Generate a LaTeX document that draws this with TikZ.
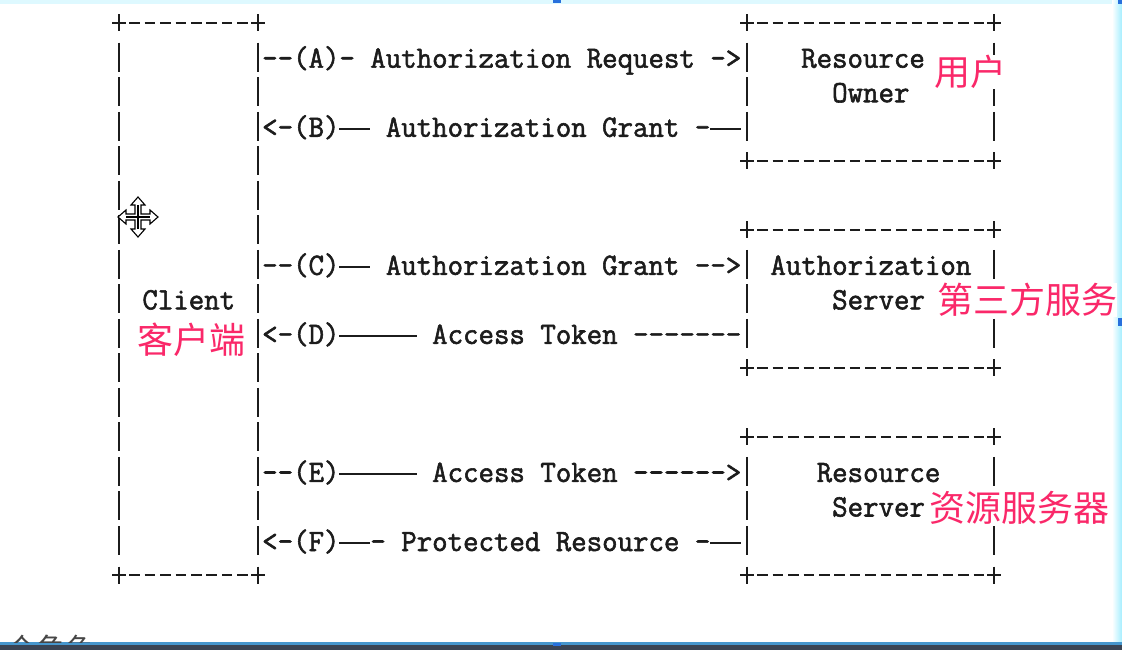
\documentclass[tikz,border=0pt]{standalone}
\usepackage{fontspec}
\newfontfamily\asciifont{Latin Modern Mono}[FakeStretch=0.968,FakeBold=1.8,Ligatures=TeXOff]
\newfontfamily\cjkfont{Noto Sans CJK SC}
\definecolor{ink}{RGB}{28,28,28}
\definecolor{note}{RGB}{250,40,105}
\definecolor{frametop}{RGB}{222,249,255}
\definecolor{frameside}{RGB}{165,238,255}
\definecolor{handle}{RGB}{40,112,220}
\definecolor{barline}{RGB}{70,150,205}
\definecolor{bardark}{RGB}{58,68,84}
\definecolor{faint}{RGB}{70,70,70}
% vertical position of text row #1 of the ASCII grid
\newcommand\rowy[1]{22.7+34.52*#1}
% one character cell filled by a dash, so that runs of them join up
\newcommand\ld{\rule[0.215em]{\fontcharwd\font`\-}{0.075em}}
\newcommand\asciiframe[1]{%
  \draw[hrule] (#1.north west) -- (#1.north east);
  \draw[hrule] (#1.south west) -- (#1.south east);
  \draw[vrule] ([yshift=-17.26pt]#1.north west) -- ([yshift=17.26pt]#1.south west);
  \draw[vrule] ([yshift=-17.26pt]#1.north east) -- ([yshift=17.26pt]#1.south east);
  \path (#1.north west) pic{plusmark} (#1.north east) pic{plusmark}
        (#1.south west) pic{plusmark} (#1.south east) pic{plusmark};}
\begin{document}
\begin{tikzpicture}[x=1pt,y=-1pt,
  asciibox/.style={rectangle, inner sep=0pt, outer sep=0pt, anchor=north west},
  hrule/.style={draw=ink, line width=2.2pt, dash pattern=on 10.5pt off 4.95pt, dash phase=5.25pt},
  vrule/.style={draw=ink, line width=2.4pt, dash pattern=on 29pt off 5.52pt, dash phase=31.76pt},
  plusmark/.pic={\draw[ink, line width=2.2pt] (-7,0) -- (7,0) (0,-8.5) -- (0,8.5);},
  mono/.style={font=\asciifont\fontsize{31}{31}\selectfont, text=ink, inner sep=0pt, anchor=base west},
  zh/.style={font=\cjkfont\fontsize{36}{36}\selectfont, text=note, fill=white, inner sep=0pt, anchor=west},
  cursorshape/.style={fill=white, draw=black, line width=1.1pt, line join=miter}]
\useasboundingbox (0,0) rectangle (1122,650);
\fill[white] (0,0) rectangle (1122,650);

% window edges
\fill[frametop] (0,0) rectangle (1122,4);
\shade[left color=white, right color=frameside] (1112,0) rectangle (1122,643);
\fill[barline] (0,642) rectangle (1122,645);
\fill[bardark] (0,645) rectangle (1122,650);
\fill[handle] (553,0) rectangle (561,3);
\fill[handle] (1118,0) rectangle (1122,4);
\fill[handle] (1118,318) rectangle (1122,326);
\fill[handle] (553,643) rectangle (561,646);

% the four parties
\node[asciibox, minimum width=139pt, minimum height=552.3pt] (client) at (119,{\rowy{0}}) {};
\node[asciibox, minimum width=247.2pt, minimum height=138.08pt] (owner) at (747,{\rowy{0}}) {};
\node[asciibox, minimum width=247.2pt, minimum height=138.08pt] (authz) at (747,{\rowy{6}}) {};
\node[asciibox, minimum width=247.2pt, minimum height=138.08pt] (rsrv) at (747,{\rowy{12}}) {};
\asciiframe{client}
\asciiframe{owner}
\asciiframe{authz}
\asciiframe{rsrv}

% box captions
\node[mono] (clientT) at (142.2,{\rowy{8}+10.5}) {Client};
\node[mono] (ownerT1) at (801,{\rowy{1}+10.5}) {Resource};
\node[mono] (ownerT2) at (832,{\rowy{2}+10.5}) {Owner};
\node[mono] (authzT1) at (770.2,{\rowy{7}+10.5}) {Authorization};
\node[mono] (authzT2) at (832,{\rowy{8}+10.5}) {Server};
\node[mono] (rsrvT1) at (816.5,{\rowy{13}+10.5}) {Resource};
\node[mono] (rsrvT2) at (832,{\rowy{14}+10.5}) {Server};

% protocol flow
\node[mono] (flowA) at (262,{\rowy{1}+10.5}) {--(A)- Authorization Request ->};
\node[mono] (flowB) at (262,{\rowy{3}+10.5}) {<-(B)\ld\ld{} Authorization Grant -\ld\ld};
\node[mono] (flowC) at (262,{\rowy{7}+10.5}) {--(C)\ld\ld{} Authorization Grant -->};
\node[mono] (flowD) at (262,{\rowy{9}+10.5}) {<-(D)\ld\ld\ld\ld\ld{} Access Token -------};
\node[mono] (flowE) at (262,{\rowy{13}+10.5}) {--(E)\ld\ld\ld\ld\ld{} Access Token ------>};
\node[mono] (flowF) at (262,{\rowy{15}+10.5}) {<-(F)\ld\ld-{} Protected Resource -\ld\ld};

% Chinese annotations
\node[zh] (zhOwner) at (934,72) {用户};
\node[zh] (zhAuthz) at (937,300) {第三方服务};
\node[zh] (zhClient) at (137,340) {客户端};
\node[zh] (zhRsrv) at (929,508) {资源服务器};

% next line of the page, cut by the window edge
\begin{scope}
  \clip (0,600) rectangle (1122,642);
  \node[font=\cjkfont\fontsize{29}{29}\selectfont, text=faint, inner sep=0pt, anchor=base west] (nextline) at (7,659) {个角色:};
\end{scope}

% move cursor
\begin{scope}[shift={(138,217)}]
  \path[cursorshape] (0,-20) -- (7,-12) -- (3,-12) -- (3,-3) -- (12,-3) -- (12,-7) -- (20,0)
    -- (12,7) -- (12,3) -- (3,3) -- (3,12) -- (7,12) -- (0,20) -- (-7,12) -- (-3,12)
    -- (-3,3) -- (-12,3) -- (-12,7) -- (-20,0) -- (-12,-7) -- (-12,-3) -- (-3,-3)
    -- (-3,-12) -- (-7,-12) -- cycle;
  \draw[black, line width=1.6pt] (0,-12) -- (0,12) (-12,0) -- (12,0);
\end{scope}
\end{tikzpicture}
\end{document}
